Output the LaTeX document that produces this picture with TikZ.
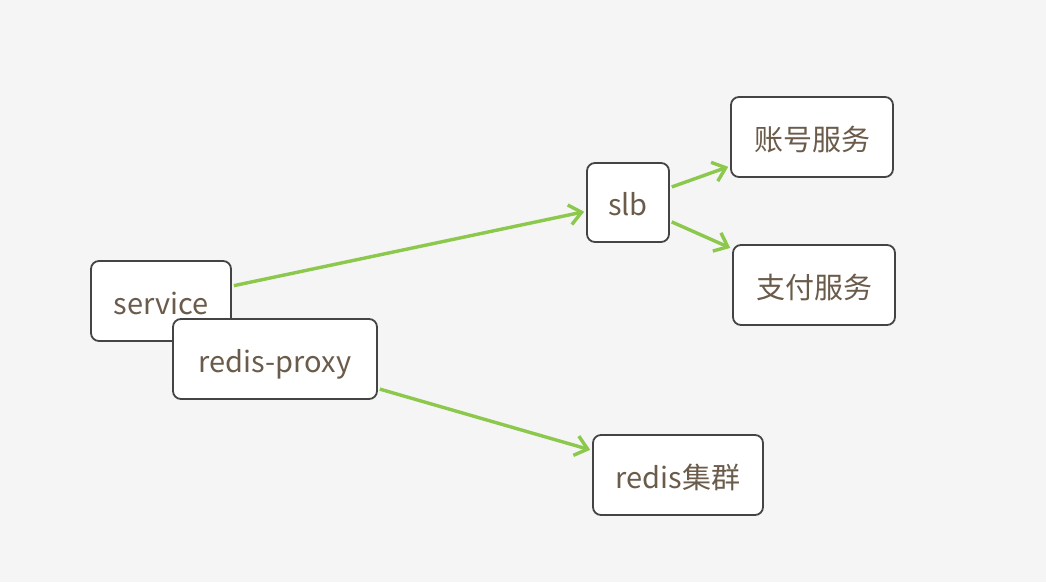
\documentclass[tikz,border=0pt]{standalone}
\usepackage{fontspec}
\setmainfont{Noto Sans CJK SC}
\usepackage{tikz}
\usetikzlibrary{arrows.meta}
\definecolor{bggray}{HTML}{F5F5F5}
\definecolor{boxline}{HTML}{444444}
\definecolor{textbrown}{HTML}{6B5B4A}
\definecolor{linkgreen}{HTML}{8BC84B}

\begin{document}
\begin{tikzpicture}[x=1pt, y=-1pt,
  box/.style = {shape=rectangle, rounded corners=8pt,
    draw=boxline, line width=1.8pt, fill=white, align=center,
    text=textbrown, font=\fontsize{29}{34}\selectfont,
    text height=28pt, text depth=2pt,
    minimum height=80pt, inner sep=0pt},
  link/.style = {draw=linkgreen, line width=3.4pt,
    -{Straight Barb[length=12pt,width=20pt,line width=3.4pt]},
    shorten <=2pt, shorten >=2pt}]
  \fill[bggray] (0,0) rectangle (1046,582);
  \useasboundingbox (0,0) rectangle (1046,582);
  \node[box, minimum width=140pt] (service) at (161,301) {service};
  \node[box, minimum width=204pt] (proxy) at (275,359) {redis-proxy};
  \node[box, minimum width=82pt, minimum height=79pt] (slb) at (628,202.5) {slb};
  \node[box, minimum width=162pt] (account) at (812,137) {账号服务};
  \node[box, minimum width=162pt] (payment) at (814,285) {支付服务};
  \node[box, minimum width=170pt] (cluster) at (678,475) {redis集群};
  % links
  \draw[link] (service) -- (slb);
  \draw[link] (slb) -- (account);
  \draw[link] (slb) -- (payment);
  \draw[link] (proxy) -- (cluster);
\end{tikzpicture}
\end{document}
